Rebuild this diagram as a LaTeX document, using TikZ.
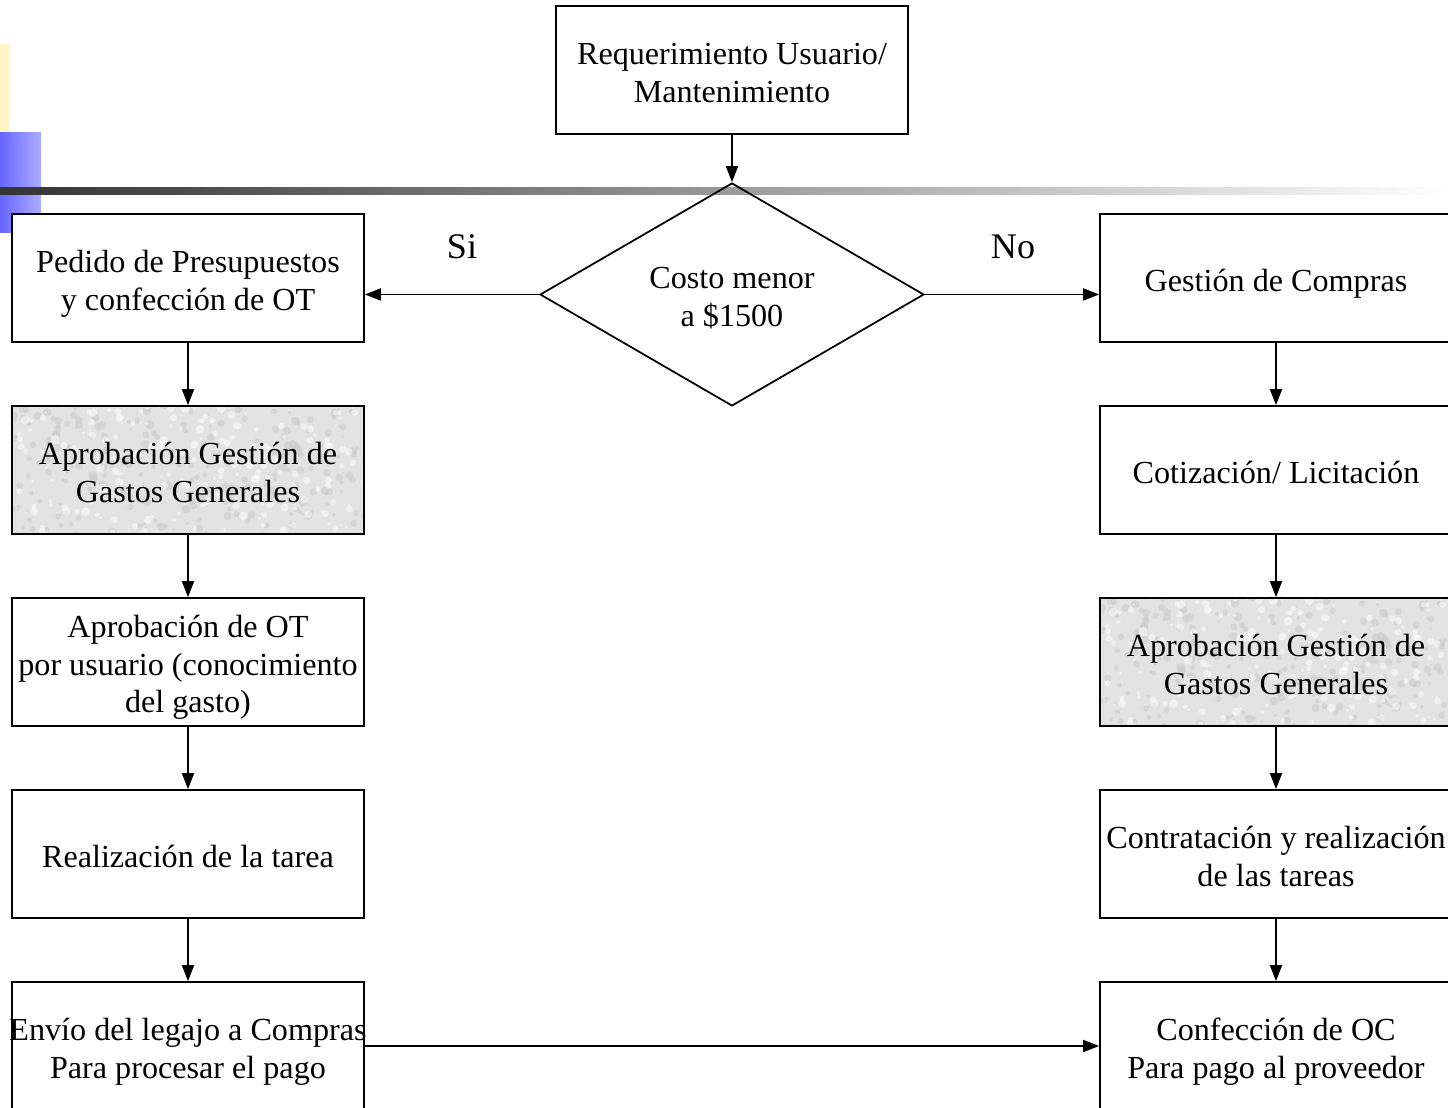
\documentclass[tikz,border=0pt]{standalone}
\usepackage{fontspec}
\setmainfont{Liberation Serif}
\usetikzlibrary{arrows.meta,shapes.geometric}
\definecolor{amarillo}{RGB}{255,242,196}
\definecolor{azulA}{RGB}{102,102,255}
\definecolor{azulB}{RGB}{172,172,255}
\newcommand{\alto}{\rule{0pt}{20pt}}

\tikzset{
  texto/.style={align=center, inner sep=0pt, font=\fontsize{18.3}{21.5}\selectfont,
    execute at end node={\rule[-5pt]{0pt}{5pt}}},
  paso/.style={texto, draw, line width=1pt, fill=white, minimum width=7.04cm, minimum height=2.56cm},
  gasto/.style={paso, fill=black!11, path picture={
      \pgfmathsetseed{7}
      \foreach \i in {1,...,260}
        \fill[black!20, opacity=0.6] (path picture bounding box.south west)
          ++(rnd*7.1cm, rnd*2.6cm) circle (rnd*2pt+0.6pt);
      \foreach \i in {1,...,200}
        \fill[white, opacity=0.5] (path picture bounding box.south west)
          ++(rnd*7.1cm, rnd*2.6cm) circle (rnd*2pt+0.6pt);
    }},
  decision/.style={texto, draw, line width=1pt, diamond, shape aspect=1.7,
    minimum width=7.68cm, minimum height=4.46cm},
  rotulo/.style={font=\fontsize{20.5}{24}\selectfont},
  flecha/.style={-{Triangle[length=0.32cm,width=0.24cm]}, line width=1pt},
}

\begin{document}
\begin{tikzpicture}[x=0.02cm, y=-0.02cm]
			\useasboundingbox (0,0) rectangle (1448,1108);
			%%%%% FONDO %%%%%
			\fill[amarillo] (0,44) rectangle (9,132);
			\shade[left color=azulA, right color=azulB] (0,133) rectangle (41,233);
			\shade[left color=black!80, middle color=black!18, right color=white] (0,188) rectangle (1448,195);
			
			%%%%% INICIO %%%%%
			\node[paso] (req) at (732,70) {\alto Requerimiento Usuario/\\Mantenimiento};
			\node[decision] (costo) at (732,294.5) {\alto Costo menor\\a \$1500};
			
			%%%%% RAMA SI %%%%%
			\node[paso] (pedido) at (188,278) {\alto Pedido de Presupuestos\\y confección de OT};
			\node[gasto] (aprobL) at (188,470) {\alto Aprobación Gestión de\\Gastos Generales};
			\node[paso] (aprobOT) at (188,662) {\alto Aprobación de OT\\por usuario (conocimiento\\del gasto)};
			\node[paso] (tarea) at (188,854) {\alto Realización de la tarea};
			\node[paso] (envio) at (188,1046) {\alto\makebox[6.9cm]{Envío del legajo a Compras}\\Para procesar el pago};
			
			%%%%% RAMA NO %%%%%
			\node[paso] (compras) at (1276,278) {\alto Gestión de Compras};
			\node[paso] (cotiz) at (1276,470) {\alto Cotización/ Licitación};
			\node[gasto] (aprobR) at (1276,662) {\alto Aprobación Gestión de\\Gastos Generales};
			\node[paso] (contrat) at (1276,854) {\alto Contratación y realización\\de las tareas};
			\node[paso] (confec) at (1276,1046) {\alto Confección de OC\\Para pago al proveedor};
			
			\node[rotulo] (si) at (462,247) {Si};
			\node[rotulo] (no) at (1013,247) {No};
			
			%%%%% FLECHAS %%%%%
			\draw[flecha] (req) -- (costo);
			\draw[flecha] (costo.west) -- (costo.west -| pedido.east);
			\draw[flecha] (costo.east) -- (costo.east -| compras.west);
			\foreach \a/\b in {pedido/aprobL, aprobL/aprobOT, aprobOT/tarea, tarea/envio,
				compras/cotiz, cotiz/aprobR, aprobR/contrat, contrat/confec}
				\draw[flecha] (\a) -- (\b);
			\draw[flecha] (envio) -- (confec);
			
			%%%%% FIN %%%%%
\end{tikzpicture}
\end{document}
